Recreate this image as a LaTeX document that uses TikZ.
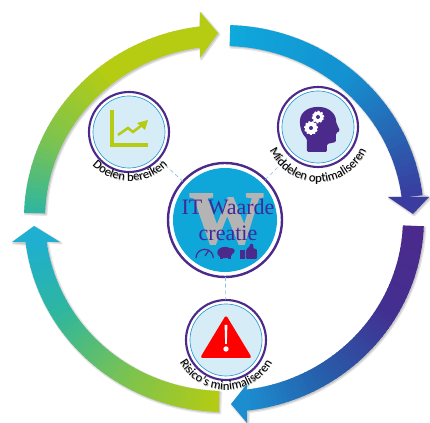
\documentclass[tikz,border=0pt]{standalone}
\usepackage{fontspec}
\setmainfont{Liberation Serif}
\setsansfont{Carlito}
\newfontfamily\wfont[BoldFeatures={FakeBold=2.5}]{Liberation Serif}
\usetikzlibrary{decorations.text,arrows.meta,calc}
\definecolor{ringindigo}{HTML}{4B2A8C}
\definecolor{discblue}{HTML}{D6ECF6}
\definecolor{thinblue}{HTML}{2E9BD0}
\definecolor{corecyan}{HTML}{0FA6DA}
\definecolor{limeg}{HTML}{B5CC12}
\definecolor{midg}{HTML}{7DC34F}
\definecolor{tealg}{HTML}{2DB6A0}
\definecolor{cyan1}{HTML}{1FAFD0}
\definecolor{cyan2}{HTML}{0FA9DC}
\definecolor{blue2}{HTML}{1490D0}
\definecolor{blue3}{HTML}{2A60B0}
\definecolor{indigo3}{HTML}{3A3CA0}
\definecolor{purple4}{HTML}{4B2A8C}
\definecolor{purple5}{HTML}{432F90}
\definecolor{blue5}{HTML}{2560AC}
\definecolor{blue6}{HTML}{1C8ED0}
\definecolor{connc}{HTML}{8CC4D8}
\definecolor{wgray}{HTML}{B4B4B4}
\definecolor{txtindigo}{HTML}{3F2A9A}
\tikzset{
  x=0.75pt,y=-0.75pt,
  satellite/.style={circle,draw=ringindigo,line width=1.6pt,fill=white,minimum size=60pt,inner sep=0pt,outer sep=0pt},
  coredisc/.style={circle,draw=ringindigo,line width=1.8pt,fill=white,minimum size=85.5pt,inner sep=0pt,outer sep=0pt},
  connector/.style={draw=connc,line width=0.5pt,densely dashed},
}
% arc label: colour, centre x, centre y, text
\newcommand{\arclab}[4]{%
  \path[decorate,decoration={text along path,text align=center,text={|\sffamily\fontsize{9.4}{10}\selectfont\color{#1}|#4}}]
    (#2,#3) ++(190:39.75pt) arc[start angle=190,end angle=350,radius=39.75pt];%
}
% gradient part of a ring arrow: a0, a1, colour 0, colour 1
\newcommand{\ringpart}[4]{%
  \pgfmathtruncatemacro{\ringn}{(#2-#1)/1.5}%
  \foreach \ringi in {1,...,\ringn}{%
    \pgfmathsetmacro{\ringa}{#1+(#2-#1)*(\ringi-1)/\ringn}%
    \pgfmathsetmacro{\ringb}{#1+(#2-#1)*\ringi/\ringn+0.3}%
    \pgfmathtruncatemacro{\ringpct}{100*(\ringi-0.5)/\ringn}%
    \fill[#4!\ringpct!#3]
      ({224+200*cos(\ringa)},{218.5+193.5*sin(\ringa)}) --
      ({224+200*cos(\ringb)},{218.5+193.5*sin(\ringb)}) --
      ({224+179*cos(\ringb)},{218.5+172.5*sin(\ringb)}) --
      ({224+179*cos(\ringa)},{218.5+172.5*sin(\ringa)}) -- cycle;
  }%
}
% soft shadow of a ring arrow: a0, a1, head path
\newcommand{\ringshadow}[3]{%
  \begin{scope}[transparency group,opacity=0.10,shift={(1.2,1.2)}]
    \filldraw[black,line width=2pt,line join=round]
      plot[domain=#1:#2,samples=50] ({224+200*cos(\x)},{218.5+193.5*sin(\x)}) -- #3 --
      plot[domain=#2:#1,samples=50] ({224+179*cos(\x)},{218.5+172.5*sin(\x)}) -- cycle;
  \end{scope}%
  \begin{scope}[transparency group,opacity=0.12,shift={(1.2,1.2)}]
    \fill[black]
      plot[domain=#1:#2,samples=50] ({224+200*cos(\x)},{218.5+193.5*sin(\x)}) -- #3 --
      plot[domain=#2:#1,samples=50] ({224+179*cos(\x)},{218.5+172.5*sin(\x)}) -- cycle;
  \end{scope}%
}
\begin{document}
\begin{tikzpicture}
\useasboundingbox (0,0) rectangle (430,423);
\fill[white] (0,0) rectangle (430,423);

% nodes
\node[coredisc] (core) at (225,220) {};
\node[satellite] (doelen) at (129,132) {};
\node[satellite] (middelen) at (318,127) {};
\node[satellite] (risico) at (226,340) {};

% connectors
\draw[connector] (core) -- (doelen);
\draw[connector] (core) -- (middelen);
\draw[connector] (core) -- (risico);

% disc interiors
\foreach \c in {doelen,middelen,risico}{
  \fill[discblue] (\c) circle (27pt);
  \draw[thinblue,line width=0.5pt] (\c) circle (27pt);
}
\fill[corecyan] (core) circle (39pt);

% core content
\node[inner sep=0pt,text=wgray,font=\wfont\bfseries\fontsize{56}{56}\selectfont] (wmark) at (226.5,219) {W};
\node[inner sep=0pt,text=txtindigo,align=center,font=\fontsize{16.5}{19}\selectfont] (coretitle) at (228,220)
  {IT Waarde\\creatie};
% gauge
\draw[purple4,line width=0.9pt] (196,258) arc[start angle=180,end angle=0,radius=6.5pt];
\draw[purple4,line width=0.9pt] (205,256) -- (209,250);
% pig
\fill[purple4] (225,252.5) ellipse (5.8pt and 4.2pt);
\fill[purple4] (231.5,251) ellipse (2.4pt and 2.2pt);
\fill[purple4] (220,255) rectangle (223,259);
\fill[purple4] (228,255) rectangle (231,259);
% thumb
\fill[purple4] (240,250) rectangle (245,259);
\fill[purple4,rounded corners=0.8pt] (246,250) -- (250,246) -- (250,243.5) -- (253.5,244.5) -- (253.5,249) -- (257,249) -- (257,259) -- (246,259) -- cycle;

% chart icon
\draw[limeg,line width=2.6pt] (112,110) -- (112,145) -- (148,145);
\draw[limeg,line width=1.9pt] (118,135) -- (128,128) -- (133,132) -- (142,125);
\fill[limeg] (148,120) -- (145,130) -- (137,123) -- cycle;

% head icon
\fill[purple4,rounded corners=1pt] (307,152) -- (307,139)
  .. controls (302,134) and (300,128) .. (300,122)
  .. controls (300,112) and (309,107) .. (318,107)
  .. controls (329,107) and (336,114) .. (336,122)
  -- (340,131) -- (336,133) -- (336,142) -- (327,144) -- (327,152) -- cycle;
\foreach \gx/\gy/\gr in {318/117/4.2,311/128/4.6}{
  \fill[white] (\gx,\gy) circle (\gr pt);
  \draw[white,line width=1.2pt,dash pattern=on 1.3pt off 1.3pt] (\gx,\gy) circle (\gr pt);
  \fill[purple4] (\gx,\gy) circle (1.5pt);
}

% warning icon
\fill[red,rounded corners=2pt] (226,315) -- (252,358) -- (200,358) -- cycle;
\fill[white] (224.6,325) -- (227.4,325) -- (226.8,344) -- (225.2,344) -- cycle;
\fill[white] (226,349) circle (2pt);

% arc labels
\arclab{black!35}{130.6}{128.6}{Doelen bereiken}
\arclab{black!35}{318.6}{129.6}{Middelen optimaliseren}
\arclab{black!35}{226.6}{337.6}{Risico’s minimaliseren}
\arclab{black}{130}{128}{Doelen bereiken}
\arclab{black}{318}{129}{Middelen optimaliseren}
\arclab{black}{226}{337}{Risico’s minimaliseren}

% ring arrows: shadows
\ringshadow{181.7}{262.8}{(200,12) -- (218,33) -- (200,58)}
\ringshadow{271.8}{352.6}{(429,197) -- (413,214) -- (388,197)}
\ringshadow{2.3}{83.3}{(247,423) -- (231,404) -- (247,384)}
\ringshadow{91.5}{172.6}{(12,242) -- (34,226) -- (60,242)}

% ring arrows: bodies
\ringpart{181.7}{205}{tealg}{midg}
\ringpart{205}{232}{midg}{limeg}
\ringpart{232}{263}{limeg}{limeg}
\fill[limeg] (200,12) -- (218,33) -- (200,58) -- cycle;

\ringpart{271.8}{310}{cyan2}{blue2}
\ringpart{310}{335}{blue2}{blue3}
\ringpart{335}{352.8}{blue3}{indigo3}
\fill[indigo3] (429,197) -- (413,214) -- (388,197) -- cycle;

\ringpart{2.3}{30}{purple4}{purple5}
\ringpart{30}{60}{purple5}{blue5}
\ringpart{60}{83.5}{blue5}{blue6}
\fill[blue6] (247,423) -- (231,404) -- (247,384) -- cycle;

\ringpart{91.5}{120}{limeg}{midg}
\ringpart{120}{150}{midg}{tealg}
\ringpart{150}{172.8}{tealg}{cyan1}
\fill[cyan1] (12,242) -- (34,226) -- (60,242) -- cycle;
\end{tikzpicture}
\end{document}
